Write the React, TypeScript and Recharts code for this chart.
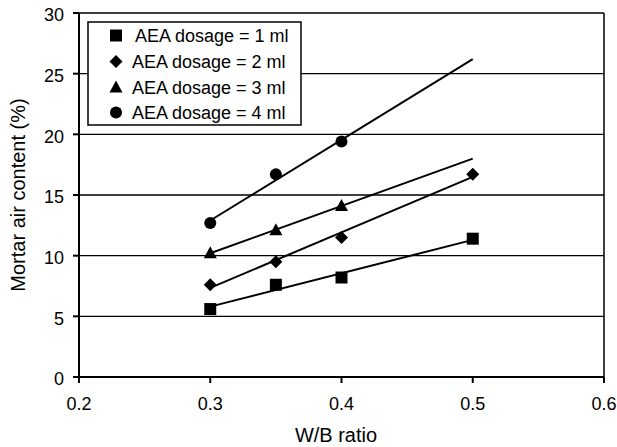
import React from 'react';
import { ScatterChart, Scatter, XAxis, YAxis, CartesianGrid, ReferenceLine } from 'recharts';

const FONT = '"Liberation Sans", Arial, sans-serif';

// W/B ratios and mortar air content (%) per AEA dosage
const dose1X = [0.3, 0.35, 0.4, 0.5];
const dose1Y = [5.6, 7.6, 8.2, 11.4];
const dose2X = [0.3, 0.35, 0.4, 0.5];
const dose2Y = [7.6, 9.5, 11.5, 16.7];
const dose3X = [0.3, 0.35, 0.4];
const dose3Y = [10.2, 12.1, 14.1];
const dose4X = [0.3, 0.35, 0.4];
const dose4Y = [12.7, 16.7, 19.4];

// linear trend lines: endpoints at W/B 0.3 and 0.5
const trendX = [0.3, 0.5];
const trend1Y = [5.8, 11.3];
const trend2Y = [7.35, 16.5];
const trend3Y = [10.2, 18.0];
const trend4Y = [12.9, 26.2];

const xTicks = [0.2, 0.3, 0.4, 0.5, 0.6];
const yTicks = [0, 5, 10, 15, 20, 25, 30];
const legendLabels = ['AEA dosage = 1 ml', 'AEA dosage = 2 ml', 'AEA dosage = 3 ml', 'AEA dosage = 4 ml'];

const toPts = (xs: number[], ys: number[]) => xs.map((x, i) => ({ x, y: ys[i] }));

const Square = (cx: number, cy: number) => <rect x={cx - 6} y={cy - 6} width={12} height={12} fill="#000" />;
const Diamond = (cx: number, cy: number) => (
  <polygon points={`${cx},${cy - 6.5} ${cx + 6.5},${cy} ${cx},${cy + 6.5} ${cx - 6.5},${cy}`} fill="#000" />
);
const Triangle = (cx: number, cy: number) => (
  <polygon points={`${cx},${cy - 7} ${cx + 6.5},${cy + 5} ${cx - 6.5},${cy + 5}`} fill="#000" />
);
const Dot = (cx: number, cy: number) => <circle cx={cx} cy={cy} r={6} fill="#000" />;
const markers = [Square, Diamond, Triangle, Dot];

const mk = (fn: (cx: number, cy: number) => React.ReactElement) => (p: any) => fn(p.cx, p.cy);
const noShape = () => <g />;

export default function App() {
  const series = [
    { pts: toPts(dose1X, dose1Y), trend: toPts(trendX, trend1Y) },
    { pts: toPts(dose2X, dose2Y), trend: toPts(trendX, trend2Y) },
    { pts: toPts(dose3X, dose3Y), trend: toPts(trendX, trend3Y) },
    { pts: toPts(dose4X, dose4Y), trend: toPts(trendX, trend4Y) },
  ];
  const rowCy = [35.5, 61.5, 87.5, 112.5];
  const rowBase = [42, 68, 94, 119];
  return (
    <div style={{ position: 'absolute', left: 0, top: 0, width: 617, height: 447, fontFamily: FONT }}>
      <ScatterChart width={617} height={447} margin={{ top: 13, right: 13, bottom: 0, left: 0 }}>
        <CartesianGrid vertical={false} stroke="#000" strokeWidth={1.3} strokeOpacity={1} />
        <XAxis
          type="number"
          dataKey="x"
          domain={[0.2, 0.6]}
          ticks={xTicks}
          tickFormatter={(v: number) => v.toFixed(1)}
          height={70}
          stroke="#000"
          axisLine={{ stroke: '#000', strokeWidth: 2 }}
          tickLine={{ stroke: '#000', strokeWidth: 2 }}
          tickSize={6}
          tickMargin={14}
          tick={{ fill: '#000', fontSize: 18, fontFamily: FONT }}
          allowDecimals
          label={{
            content: () => (
              <text x={336} y={442} textAnchor="middle" fontSize={20} fontFamily={FONT} fill="#000">
                W/B ratio
              </text>
            ),
          }}
        />
        <YAxis
          type="number"
          dataKey="y"
          domain={[0, 30]}
          ticks={yTicks}
          width={79}
          stroke="#000"
          axisLine={{ stroke: '#000', strokeWidth: 2 }}
          tickLine={{ stroke: '#000', strokeWidth: 2 }}
          tickSize={6}
          tickMargin={9}
          tick={{ fill: '#000', fontSize: 18, fontFamily: FONT, dy: 2 }}
          label={{
            content: () => (
              <text
                x={25}
                y={195}
                transform="rotate(-90 25 195)"
                textAnchor="middle"
                fontSize={20}
                fontFamily={FONT}
                fill="#000"
              >
                Mortar air content (%)
              </text>
            ),
          }}
        />
        <ReferenceLine x={0.6} stroke="#000" strokeWidth={1.5} />
        {series.map((s, i) => (
          <Scatter
            key={`t${i}`}
            data={s.trend}
            line={{ stroke: '#000', strokeWidth: 2 }}
            lineType="joint"
            shape={noShape}
            isAnimationActive={false}
          />
        ))}
        {series.map((s, i) => (
          <Scatter key={`m${i}`} data={s.pts} shape={mk(markers[i])} isAnimationActive={false} />
        ))}
      </ScatterChart>
      <svg width={617} height={447} style={{ position: 'absolute', left: 0, top: 0, pointerEvents: 'none' }}>
        <rect x={88} y={22} width={213} height={103} fill="#fff" stroke="#000" strokeWidth={1.5} />
        {legendLabels.map((lab, i) => (
          <g key={lab}>
            {markers[i](116, rowCy[i])}
            <text x={i === 0 ? 135 : 132} y={rowBase[i]} fontSize={18} fontFamily={FONT} fill="#000">
              {lab}
            </text>
          </g>
        ))}
      </svg>
    </div>
  );
}
